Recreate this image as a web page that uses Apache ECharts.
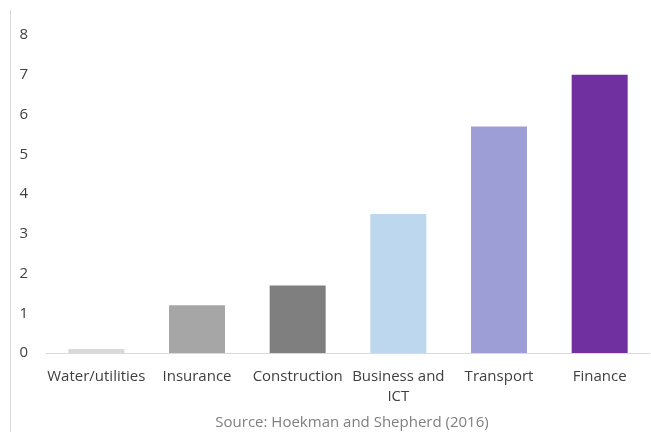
<!DOCTYPE html>
<html><head><meta charset="utf-8">
<script src="https://cdn.jsdelivr.net/npm/echarts@6/dist/echarts.min.js"></script>
<style>html,body{margin:0;padding:0;background:#fff}#c{width:651px;height:432px}</style>
</head><body><div id="c"></div>
<script>
const categories = ["Water/utilities","Insurance","Construction","Business and\nICT","Transport","Finance"];
const values = [0.1, 1.2, 1.7, 3.5, 5.7, 7.0];
const barColors = ["#d9d9d9","#a6a6a6","#7f7f7f","#bdd7ee","#9e9ed7","#7030a0"];
const yTicks = [0,1,2,3,4,5,6,7,8];
const sourceText = "Source: Hoekman and Shepherd (2016)";

const chart = echarts.init(document.getElementById('c'), null, {renderer:'canvas'});
const font = "'Open Sans', 'Noto Sans', sans-serif";
chart.setOption({
  animation:false,
  grid:{left:46,right:1,top:35,bottom:79},
  xAxis:{type:'category',data:categories,
    axisLine:{lineStyle:{color:'#d9d9d9',width:1}},axisTick:{show:false},
    axisLabel:{color:'#404040',fontSize:15,fontFamily:font,margin:14,lineHeight:20,interval:0}},
  yAxis:{type:'value',min:yTicks[0],max:yTicks[yTicks.length-1],interval:1,
    splitLine:{show:false},axisLine:{show:false},axisTick:{show:false},
    axisLabel:{color:'#404040',fontSize:15,fontFamily:font,margin:18}},
  series:[{type:'bar',barWidth:56,
    data:values.map((v,i)=>({value:v,itemStyle:{color:barColors[i]}}))}],
  graphic:[
    {type:'line',shape:{x1:10.5,y1:10,x2:10.5,y2:432},style:{stroke:'#d9d9d9',lineWidth:1}},
    {type:'text',x:352,y:423,style:{text:sourceText,fill:'#7f7f7f',font:"15px "+font,align:'center',verticalAlign:'middle'}}
  ]
});
</script></body></html>
